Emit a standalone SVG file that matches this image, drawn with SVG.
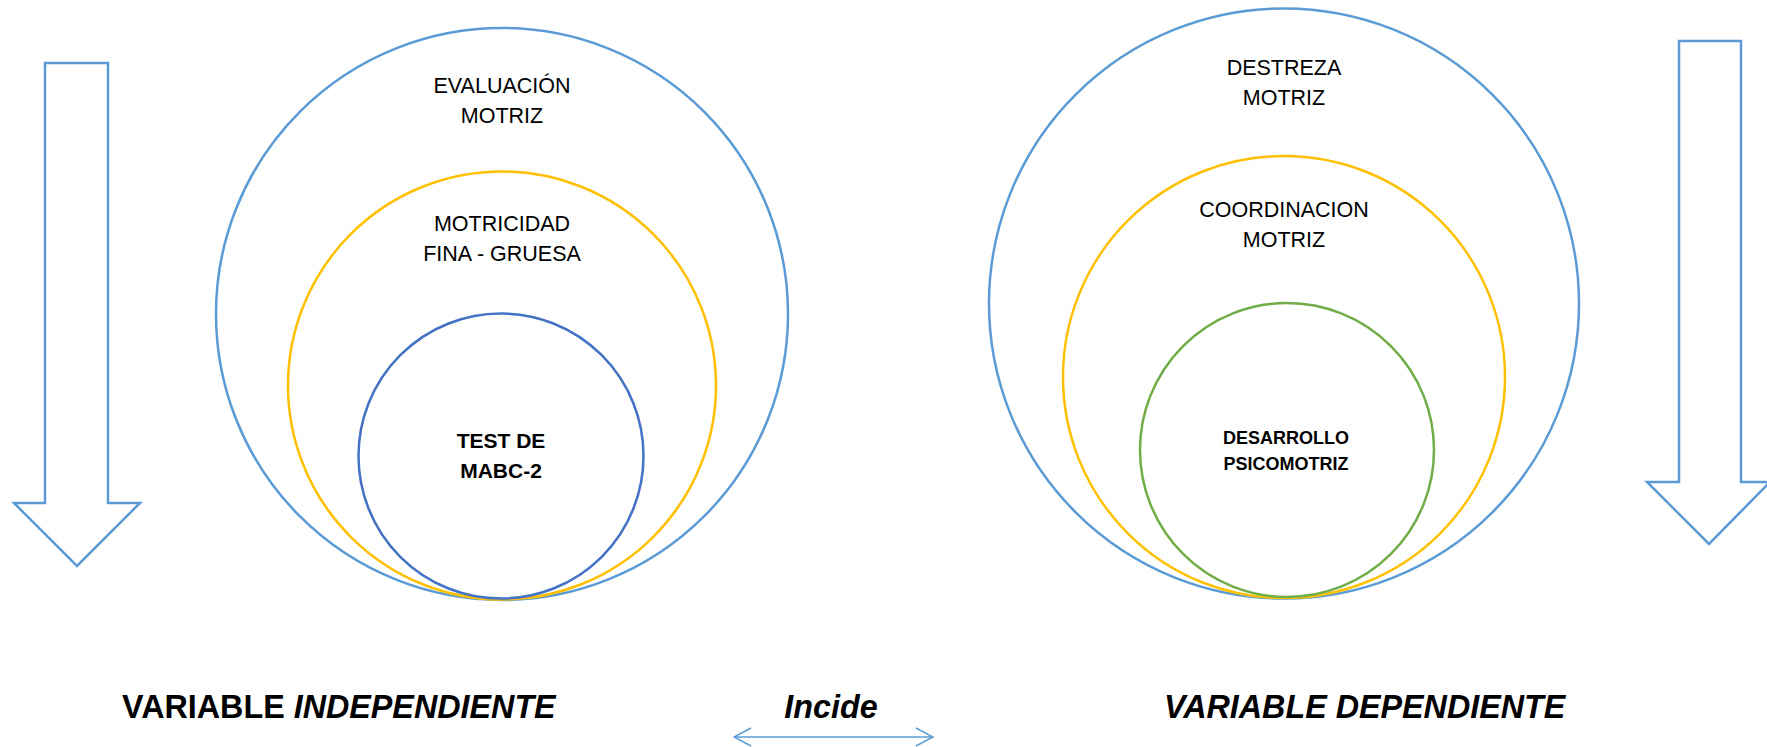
<svg xmlns="http://www.w3.org/2000/svg" width="1767" height="747" viewBox="0 0 1767 747">
<defs>
<style>
.c{fill:none;stroke-width:2.5}
.blue{stroke:#5B9BD5}
.yel{stroke:#FFC000}
.dblue{stroke:#4472C4}
.grn{stroke:#70AD47}
.arr{fill:#fff;stroke:#5B9BD5;stroke-width:2.5;stroke-linejoin:miter}
.t{font-family:"Liberation Sans",Arial,sans-serif;font-size:21.5px;fill:#000;text-anchor:middle}
.tb{font-family:"Liberation Sans",Arial,sans-serif;font-weight:bold;fill:#000;text-anchor:middle}
.big{font-family:"Liberation Sans",Arial,sans-serif;font-weight:bold;font-size:32.3px;fill:#000}
</style>
<marker id="chev" viewBox="0 0 20 20" refX="19" refY="10" markerWidth="20" markerHeight="20" markerUnits="userSpaceOnUse" orient="auto-start-reverse">
<path d="M2,1 L19,10 L2,19" fill="none" stroke="#5B9BD5" stroke-width="1.5"/>
</marker>
</defs>
<rect width="1767" height="747" fill="#fff"/>

<g id="arrow-left">
<polygon class="arr" points="45,63 108,63 108,503 140,503 77,566 14,503 45,503"/>
</g>
<g id="arrow-right">
<polygon class="arr" points="1679,41 1741,41 1741,482 1770,482 1709,544 1647,482 1679,482"/>
</g>

<g id="evaluacion">
<circle class="c blue" cx="502" cy="314" r="286"/>
<text class="t" x="502" y="92.5">EVALUACIÓN</text>
<text class="t" x="502" y="123">MOTRIZ</text>
</g>
<g id="motricidad">
<circle class="c yel" cx="502" cy="385.5" r="214"/>
<text class="t" x="502" y="230.5">MOTRICIDAD</text>
<text class="t" x="502" y="261">FINA - GRUESA</text>
</g>
<g id="test">
<circle class="c dblue" cx="501" cy="456" r="142.5"/>
<text class="tb" x="501" y="447.5" font-size="21">TEST DE</text>
<text class="tb" x="501" y="477.5" font-size="21">MABC-2</text>
</g>

<g id="destreza">
<circle class="c blue" cx="1284" cy="303.5" r="295"/>
<text class="t" x="1284" y="75">DESTREZA</text>
<text class="t" x="1284" y="104.5">MOTRIZ</text>
</g>
<g id="coordinacion">
<circle class="c yel" cx="1284" cy="377" r="221"/>
<text class="t" x="1284" y="216.5">COORDINACION</text>
<text class="t" x="1284" y="246.5">MOTRIZ</text>
</g>
<g id="desarrollo">
<circle class="c grn" cx="1287" cy="450" r="147"/>
<text class="tb" x="1286" y="443.5" font-size="18">DESARROLLO</text>
<text class="tb" x="1286" y="470" font-size="18">PSICOMOTRIZ</text>
</g>

<g id="label-independiente">
<text class="big" x="122" y="718">VARIABLE <tspan font-style="italic">INDEPENDIENTE</tspan></text>
</g>
<g id="label-incide">
<text class="big" x="831" y="718" text-anchor="middle" font-style="italic">Incide</text>
</g>
<g id="label-dependiente">
<text class="big" x="1164" y="718" font-style="italic">VARIABLE DEPENDIENTE</text>
</g>

<g id="connectors">
<line x1="734" y1="737" x2="933" y2="737" stroke="#5B9BD5" stroke-width="1.5" marker-start="url(#chev)" marker-end="url(#chev)"/>
</g>
</svg>
